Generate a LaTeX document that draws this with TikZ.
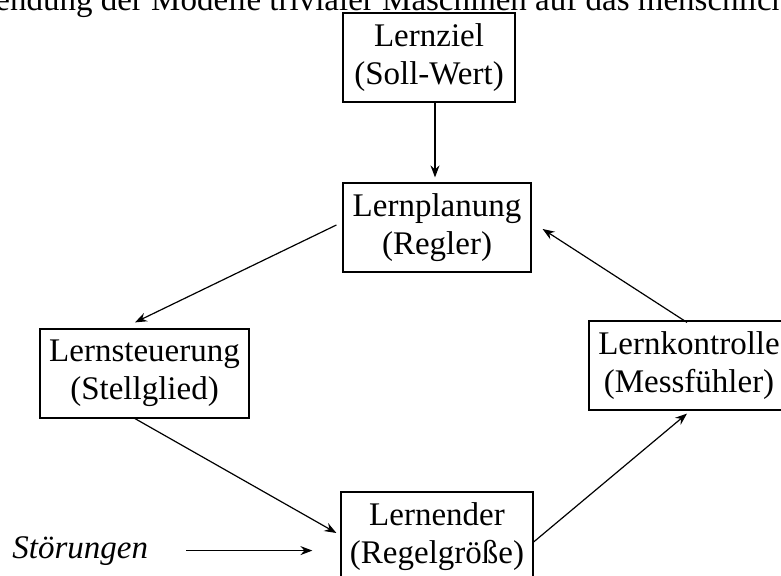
\documentclass[tikz,border=0pt]{standalone}
\usepackage{fontspec}
\setmainfont{Liberation Serif}
\usepackage{tikz}
\usetikzlibrary{positioning, arrows.meta}

\begin{document}
\begin{tikzpicture}[
        x=0.5pt, y=-0.5pt,
        font=\fontsize{16.5pt}{19pt}\selectfont,
        block/.style={
            rectangle, draw=black, line width=0.6pt,
            minimum height=44.5pt, align=center, inner sep=0pt
        },
        line/.style={draw=black, line width=0.6pt, -{Stealth[length=6pt, width=4.5pt, inset=2pt]}}
    ]

    % FRAME (picture cut like the original)
    \useasboundingbox (0,0) rectangle (781,576);
    \clip (0,0) rectangle (781,576);

    % HEADING (only its lower part is visible)
    \node[anchor=base west, inner sep=0pt] (titel) at (-5,11)
        {endung der Modelle trivialer Maschinen auf das menschliche};

    % CONTROL LOOP BLOCKS
    \node[block, minimum width=86pt] (ziel) at (429,57.5) {Lernziel\\(Soll-Wert)};
    \node[block, minimum width=94pt] (planung) at (437,227.5) {Lernplanung\\(Regler)};
    \node[block, minimum width=104.5pt] (steuerung) at (144.5,373.5) {Lernsteuerung\\(Stellglied)};
    \node[block, minimum width=100pt] (kontrolle) at (689,365.5) {Lernkontrolle\\(Messfühler)};
    \node[block, minimum width=96pt] (lernender) at (437,536.5) {Lernender\\(Regelgröße)};

    % DISTURBANCE
    \node[anchor=base west, inner sep=0pt, font=\fontsize{16.5pt}{19pt}\selectfont\itshape] (stoer) at (12,558) {Störungen};

    % CONNECTORS
    \draw[line] ([xshift=3pt]ziel.south) -- ([xshift=3pt, yshift=2.5pt]ziel.south |- planung.north);
    \draw[line] ([xshift=-3pt, yshift=1.25pt]planung.west) -- ([xshift=-4.75pt, yshift=3pt]steuerung.north);
    \draw[line] ([xshift=-4.75pt]steuerung.south) -- ([xshift=-2pt, yshift=1.75pt]lernender.west);
    \draw[line] ([yshift=-2.75pt]lernender.east) -- ([xshift=-1pt, yshift=-1.5pt]kontrolle.south);
    \draw[line] ([xshift=-1pt, yshift=-1pt]kontrolle.north) -- ([xshift=5.5pt, yshift=-0.75pt]planung.east);
    \draw[line] ([xshift=19pt]stoer.east) -- ([xshift=-14pt]stoer.east -| lernender.west);

\end{tikzpicture}
\end{document}
